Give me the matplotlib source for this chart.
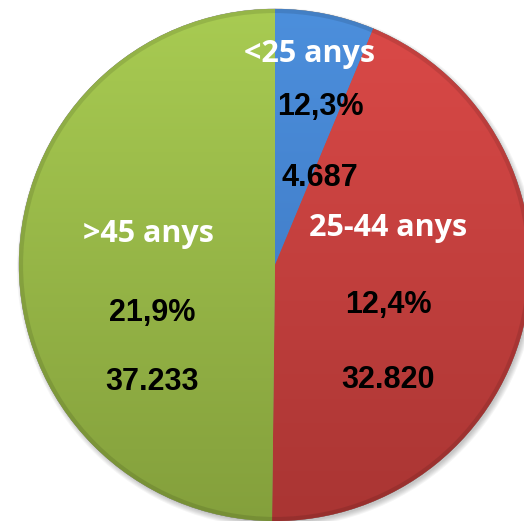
import matplotlib.pyplot as plt
import numpy as np
from matplotlib.colors import to_rgb

# persones per grup d'edat
groups = ['<25 anys', '25-44 anys', '>45 anys']
people = [4687, 32820, 37233]
people_txt = ['4.687', '32.820', '37.233']
rates_txt = ['12,3%', '12,4%', '21,9%']

top_cols = ['#4c8fdc', '#dc4a48', '#a8cb52']
bot_cols = ['#3a72bc', '#a93533', '#84a03c']

W, H = 524, 521
fig = plt.figure(figsize=(W / 100, H / 100), dpi=100)
ax = fig.add_axes([0, 0, 1, 1])

def py(y):
    # pixel row (from top) -> data y
    return H - y

cx, cy, R = 275, py(265), 256

# soft shadow
for k in range(6):
    ax.add_patch(plt.Circle((cx + 2, cy - 3), R + 4 - k, color='k',
                            alpha=0.04, lw=0, zorder=0))

wedges, _ = ax.pie(people, startangle=90, counterclock=False,
                   center=(cx, cy), radius=R, colors=top_cols,
                   wedgeprops=dict(edgecolor='#666666', linewidth=0.3),
                   frame=True)

# vertical gradient inside each wedge
t = np.linspace(0, 1, 256)[:, None]
for w, c1, c2 in zip(wedges, top_cols, bot_cols):
    a, b = np.array(to_rgb(c1)), np.array(to_rgb(c2))
    img = (a * (1 - t) + b * t)[:, None, :].repeat(2, axis=1)
    im = ax.imshow(img, extent=(cx - R, cx + R, cy - R, cy + R),
                   aspect='auto', zorder=1.5, interpolation='bilinear')
    im.set_clip_path(w)

# rim darkening
ax.add_patch(plt.Circle((cx, cy), R - 2, fill=False, ec='k', lw=3,
                        alpha=0.10, zorder=2))

ax.set_xlim(0, W)
ax.set_ylim(0, H)
ax.set_aspect('equal')
ax.axis('off')

lab_kw = dict(color='white', fontsize=22, fontweight='bold',
              family=['Open Sans', 'DejaVu Sans'], ha='center', va='center', zorder=3)
num_kw = dict(color='black', fontsize=22, fontweight='bold',
              family=['Liberation Sans', 'DejaVu Sans'], ha='center', va='center', zorder=3)

lab_pos = [(310, 54), (388, 228), (148, 234)]
rate_pos = [(320, 107), (388, 305), (152, 313)]
num_pos = [(320, 178), (388, 380), (152, 382)]

for i in range(3):
    ax.text(lab_pos[i][0], py(lab_pos[i][1]), groups[i], **lab_kw)
    ax.text(rate_pos[i][0], py(rate_pos[i][1]), rates_txt[i], **num_kw)
    ax.text(num_pos[i][0], py(num_pos[i][1]), people_txt[i], **num_kw)

fig.savefig('out.png', dpi=100)
